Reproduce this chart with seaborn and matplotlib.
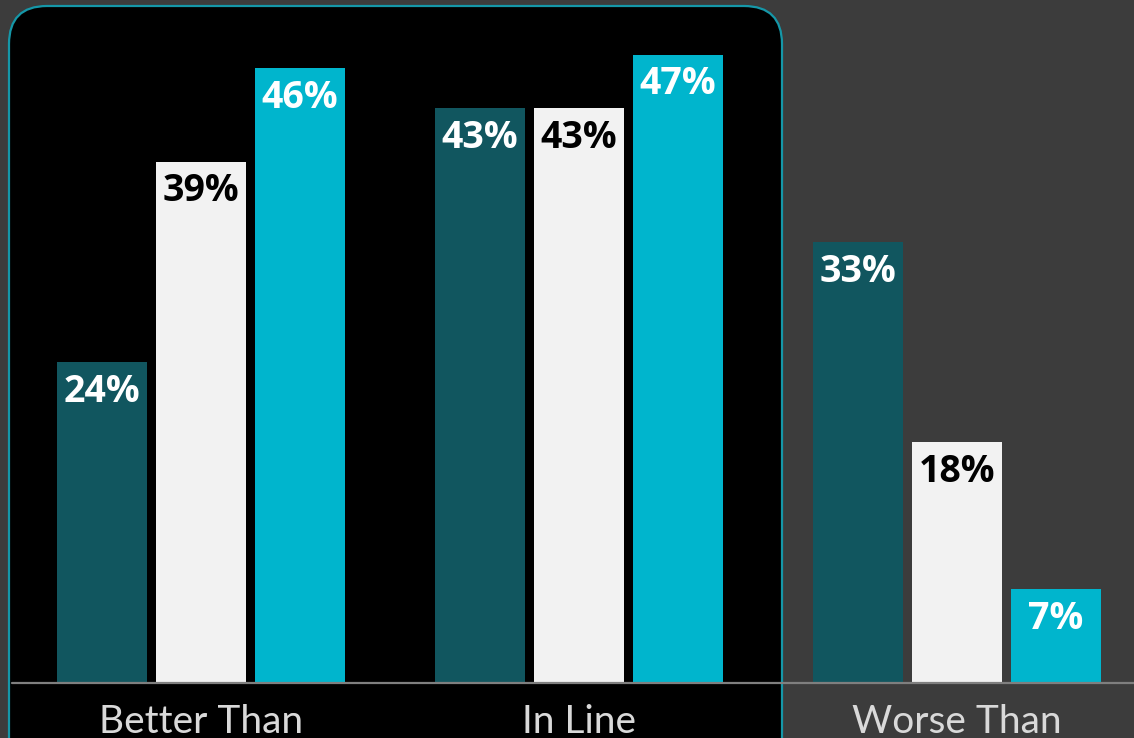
import matplotlib
matplotlib.use("Agg")
import matplotlib.pyplot as plt
from matplotlib.patches import FancyBboxPatch
import seaborn as sns
import pandas as pd

categories = ["Better Than", "In Line", "Worse Than"]
series_names = ["S1", "S2", "S3"]
s1 = [24, 43, 33]
s2 = [39, 43, 18]
s3 = [46, 47, 7]

colors = ["#11565f", "#f2f2f2", "#00b5cd"]
label_colors = ["white", "black", "white"]

rows = []
for name, vals in zip(series_names, [s1, s2, s3]):
    for c, v in zip(categories, vals):
        rows.append({"cat": c, "series": name, "val": v})
df = pd.DataFrame(rows)

sns.set_theme(style="white")
plt.rcParams["font.family"] = ["Lato", "DejaVu Sans"]

W, H = 1134, 738
fig = plt.figure(figsize=(W / 100, H / 100), dpi=100, facecolor="#3c3c3c")

# black rounded panel behind first two groups
panel = FancyBboxPatch((9, -60), 773, 792, boxstyle="round,pad=0,rounding_size=38",
                       transform=None, facecolor="black", edgecolor="#1597a8",
                       linewidth=1.6, zorder=-5)
fig.patches.append(panel)

ax = fig.add_axes([0, 55 / H, 1, 683 / H])
ax.set_zorder(2)
ax.set_facecolor("none")
sns.barplot(data=df, x="cat", y="val", hue="series", order=categories,
            hue_order=series_names, palette=colors, width=0.7857, gap=0.1,
            saturation=1, legend=False, ax=ax, errorbar=None, linewidth=0)

ax.set_xlim(-201 / 378, (W - 201) / 378)
ax.set_ylim(0, 683 / 13.37)

for cont, lc in zip(ax.containers, label_colors):
    for bar in cont:
        h = bar.get_height()
        ax.annotate(f"{h:.0f}%", (bar.get_x() + bar.get_width() / 2, h),
                    xytext=(0, -21.5), textcoords="offset points",
                    ha="center", va="center", color=lc,
                    fontsize=27, fontweight="bold", family=["Open Sans", "DejaVu Sans"])

ax.axhline(0, xmin=12 / W, xmax=1, color="#7f7f7f", linewidth=1.6, clip_on=False)

for sp in ax.spines.values():
    sp.set_visible(False)
ax.set_yticks([])
ax.set_xlabel("")
ax.set_ylabel("")
ax.set_xticks(range(len(categories)))
ax.set_xticklabels(categories, fontsize=28, color="#d9d9d9", fontweight="normal")
ax.tick_params(axis="x", length=0, pad=15)

fig.savefig("out.png", dpi=100, facecolor=fig.get_facecolor())
